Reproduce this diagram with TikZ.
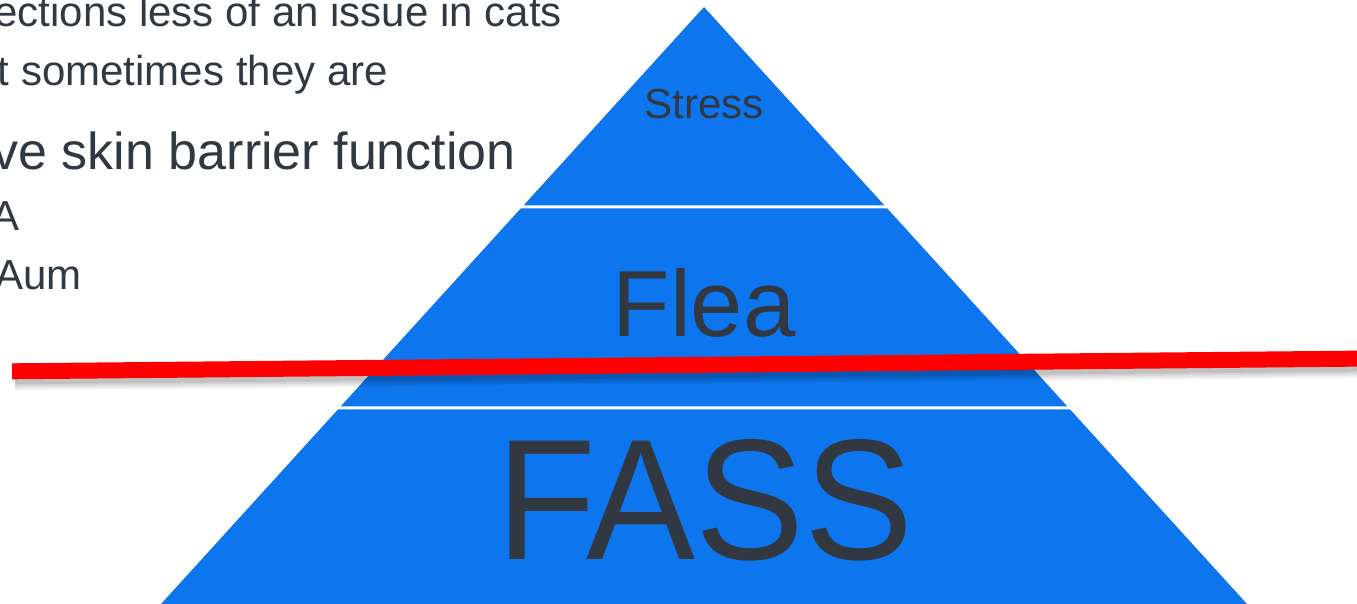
\documentclass[tikz,border=0pt]{standalone}
\usepackage{fontspec}
\setmainfont{Liberation Sans}
\definecolor{pyrblue}{RGB}{13,118,238}
\definecolor{txtgray}{RGB}{50,56,66}
\definecolor{cutred}{RGB}{255,0,0}
\tikzset{
  band/.style={fill=pyrblue, draw=none},
  bodytext/.style={inner sep=0pt, anchor=base east, text=txtgray},
  pyrtext/.style={inner sep=0pt, anchor=base, text=txtgray},
}
\begin{document}
\begin{tikzpicture}[x=1pt,y=-1pt]
\useasboundingbox (0,0) rectangle (1357,604);
\clip (0,0) rectangle (1357,604);
% pyramid bands
\fill[band] (704,7) -- (884.5,205.5) -- (523.5,205.5) -- cycle;
\fill[band] (520.7,208.5) -- (887.3,208.5) -- (1067.2,406.3) -- (340.8,406.3) -- cycle;
\fill[band] (338.1,409.3) -- (1069.9,409.3) -- (1247,604) -- (161,604) -- cycle;
% pyramid labels
\node[pyrtext, font=\fontsize{42}{50}\selectfont] (stress) at (704,119) {Stress};
\node[pyrtext, font=\fontsize{94}{110}\selectfont] (flea) at (704,336) {Flea};
\node[pyrtext, font=\fontsize{172}{190}\selectfont, xscale=0.95] (fass) at (705,559) {FASS};
% left text (cut by the left edge, as in the reference)
\node[bodytext, font=\fontsize{42}{50}\selectfont] (l1) at (562,27) {ections less of an issue in cats};
\node[bodytext, font=\fontsize{42}{50}\selectfont] (l2) at (388,86) {t sometimes they are};
\node[bodytext, font=\fontsize{52}{60}\selectfont] (l3) at (516,170) {ve skin barrier function};
\node[bodytext, font=\fontsize{42}{50}\selectfont] (l4) at (20,230) {A};
\node[bodytext, font=\fontsize{42}{50}\selectfont] (l5) at (82,289) {Aum};
% red line with shadow
\coordinate (rl) at (12,371.3);
\coordinate (rr) at (1362,358.6);
\foreach \w/\o in {22/0.05,18/0.06,14/0.07,10/0.09}
  \draw[line width=\w pt, black, opacity=\o] ([shift={(3,8)}]rl) -- ([shift={(3,8)}]rr);
\draw[line width=16pt, cutred] (rl) -- (rr);
\end{tikzpicture}
\end{document}
